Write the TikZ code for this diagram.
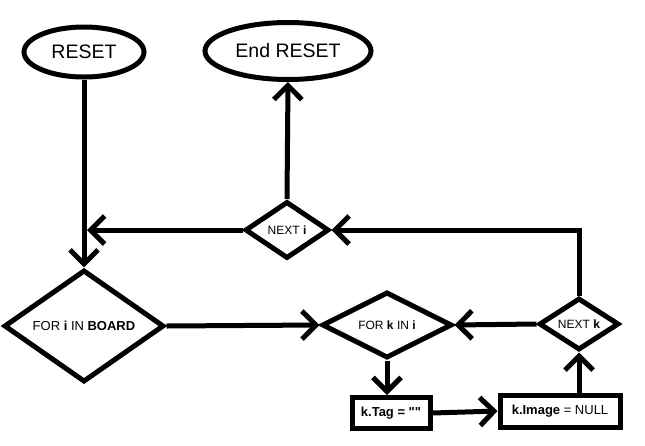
\documentclass[tikz,border=0pt]{standalone}
\usepackage{fontspec}
\setmainfont{Liberation Sans}
\newfontfamily\qfont{Liberation Sans}[Ligatures=TeXOff]
\usetikzlibrary{shapes.geometric,arrows.meta}
\begin{document}
\begin{tikzpicture}[x=1pt,y=-1pt,line width=5pt,
  term/.style={ellipse,draw,inner sep=0pt,font=\fontsize{19.5}{22}\selectfont},
  dec/.style={diamond,draw,inner sep=0pt,font=\fontsize{12}{14}\selectfont},
  proc/.style={rectangle,draw,inner sep=0pt,font=\fontsize{13}{15}\selectfont},
  arr/.style={-{Straight Barb[length=14pt,width=28pt]}}]
\useasboundingbox[fill=white] (0,0) rectangle (645,445);
\node[term,minimum width=120,minimum height=50] (reset) at (84,52) {RESET};
\node[term,minimum width=166,minimum height=57] (end) at (288,51) {End RESET};
\node[dec,minimum width=160,minimum height=72,font=\fontsize{13}{15}\selectfont] (fori) at (84,326) {FOR \textbf{i} IN \textbf{BOARD}};
\node[dec,minimum width=130,minimum height=54] (fork) at (387,325) {FOR \textbf{k} IN \textbf{i}};
\node[proc,minimum width=78,minimum height=31] (tag) at (391,413) {\textbf{k.Tag = {\qfont ""}}};
\node[proc,minimum width=120,minimum height=32] (img) at (560,411) {\textbf{k.Image} = NULL};
\node[dec,minimum width=80,minimum height=52] (nextk) at (579,324) {NEXT \textbf{k}};
\node[dec,minimum width=84,minimum height=57] (nexti) at (287,230) {NEXT \textbf{i}};
\coordinate (j) at (87,230);
\draw[arr] (reset.south) -- (fori.north);
\draw[arr] (nexti.west) -- (j);
\draw[arr] (fori.east) -- (fork.west);
\draw[arr] (fork.south) -- (fork.south |- tag.north);
\draw[arr] (tag.east) -- (img.west);
\draw[arr] (nextk.south |- img.north) -- (nextk.south);
\draw[arr] (nextk.west) -- (fork.east);
\draw[arr] (nextk.north) |- (nexti.east);
\draw[arr] (nexti.north) -- (end.south);
\end{tikzpicture}
\end{document}
